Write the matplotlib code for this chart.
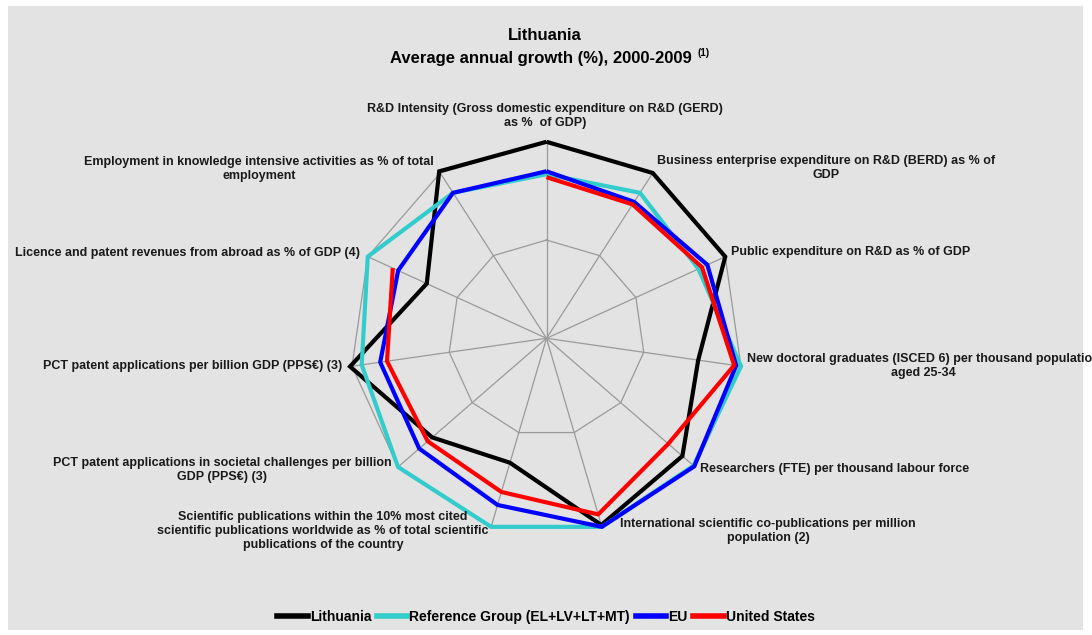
import numpy as np
import matplotlib
matplotlib.use("Agg")
import matplotlib.pyplot as plt
from matplotlib.patches import Rectangle
from matplotlib.lines import Line2D

plt.rcParams['font.family'] = ['Liberation Sans', 'DejaVu Sans']

categories = [
    "R&D Intensity (Gross domestic expenditure on R&D (GERD)\nas %  of GDP)",
    "Business enterprise expenditure on R&D (BERD) as % of\nGDP",
    "Public expenditure on R&D as % of GDP",
    "New doctoral graduates (ISCED 6) per thousand population\naged 25-34",
    "Researchers (FTE) per thousand labour force",
    "International scientific co-publications per million\npopulation (2)",
    "Scientific publications within the 10% most cited\nscientific publications worldwide as % of total scientific\npublications of the country",
    "PCT patent applications in societal challenges per billion\nGDP (PPS€) (3)",
    "PCT patent applications per billion GDP (PPS€) (3)",
    "Licence and patent revenues from abroad as % of GDP (4)",
    "Employment in knowledge intensive activities as % of total\nemployment",
]

series_names = ["Lithuania", "Reference Group (EL+LV+LT+MT)", "EU", "United States"]
lithuania = [1.0, 1.0, 1.0, 0.78, 0.915, 0.99, 0.66, 0.77, 1.01, 0.67, 1.01]
ref_group = [0.835, 0.88, 0.85, 1.0, 0.99, 1.0, 1.0, 1.0, 0.95, 1.0, 0.88]
eu = [0.85, 0.825, 0.90, 0.975, 0.995, 1.0, 0.884, 0.857, 0.855, 0.83, 0.88]
us = [0.82, 0.81, 0.87, 0.965, 0.82, 0.934, 0.815, 0.80, 0.82, 0.86, np.nan]
colors = ["#000000", "#33CCCC", "#0000FF", "#FF0000"]

W, H = 1092, 635
fig = plt.figure(figsize=(W / 100, H / 100), dpi=100)
fig.patch.set_facecolor("white")
fig.patches.append(Rectangle((8 / W, 1 - 630 / H), (1083 - 8) / W, (630 - 6) / H,
                             transform=fig.transFigure, facecolor="#e3e3e3",
                             edgecolor="none", zorder=-10))

cx, cy, R = 546.5, 338.3, 196.5
ax = fig.add_axes([(cx - R) / W, (H - cy - R) / H, 2 * R / W, 2 * R / H], projection="polar")
ax.set_facecolor("none")
ax.set_theta_offset(np.pi / 2)
ax.set_theta_direction(-1)
ax.set_ylim(0, 1)
ax.grid(False)
ax.spines["polar"].set_visible(False)
ax.set_xticks([])
ax.set_yticks([])

n = len(categories)
theta = np.linspace(0, 2 * np.pi, n, endpoint=False)
theta_c = np.append(theta, theta[0])

gridc = "#9a9a9a"
for r in [0.5, 1.0]:
    ax.plot(theta_c, [r] * (n + 1), color=gridc, lw=0.9, zorder=1, clip_on=False)
for t in theta:
    ax.plot([t, t], [0, 1], color=gridc, lw=0.9, zorder=1, clip_on=False)

for vals, c in zip([lithuania, ref_group, eu, us], colors):
    v = np.append(vals, vals[0])
    ax.plot(theta_c, v, color=c, lw=3.0, zorder=3, clip_on=False,
            solid_joinstyle="miter", solid_capstyle="butt")

# axis labels: (x_px, y_px, ha)
label_pos = [
    (545, 116, "center"),
    (826, 168, "center"),
    (731, 252, "left"),
    (923, 366, "center"),
    (700, 469, "left"),
    (768, 531, "center"),
    (323, 531, "center"),
    (222, 470, "center"),
    (342, 366, "right"),
    (360, 253, "right"),
    (259, 169, "center"),
]
for lab, (x, y, ha) in zip(categories, label_pos):
    fig.text(x / W, 1 - y / H, lab, ha=ha, va="center", multialignment="center",
             fontsize=9, fontweight="bold", color="#1a1a1a", linespacing=1.25)

fig.text(545 / W, 1 - 35 / H, "Lithuania", ha="center", va="center",
         fontsize=12, fontweight="bold")
fig.text(692 / W, 1 - 59 / H, "Average annual growth (%), 2000-2009", ha="right",
         va="center", fontsize=12, fontweight="bold")
fig.text(697 / W, 1 - 53 / H, "(1)", ha="left", va="center",
         fontsize=7, fontweight="bold")

handles = [Line2D([0], [0], color=c, lw=4) for c in colors]
leg = fig.legend(handles, series_names, loc="center", bbox_to_anchor=(0.5, 1 - 617 / H),
                 ncol=4, frameon=False, handlelength=2.2, handletextpad=0.15,
                 columnspacing=0.4, prop={"weight": "bold", "size": 10})

fig.savefig("out.png", dpi=100)
